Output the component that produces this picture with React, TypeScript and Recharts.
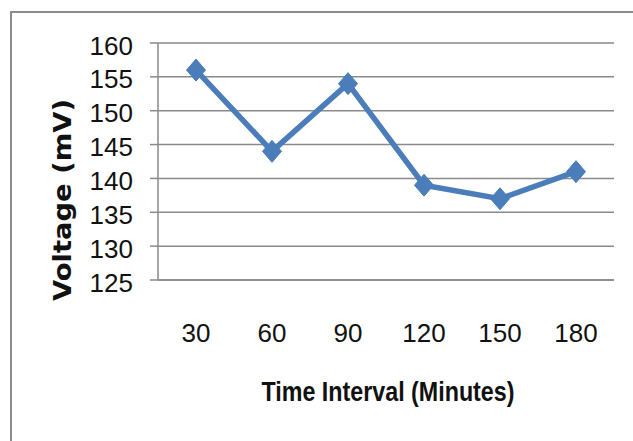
import React from 'react';
import { LineChart, Line, XAxis, YAxis, CartesianGrid } from 'recharts';

const timeIntervals = ['30', '60', '90', '120', '150', '180'];
const voltages = [156, 144, 154, 139, 137, 141];
const yTicks = [125, 130, 135, 140, 145, 150, 155, 160];

const data = timeIntervals.map((t, i) => ({ time: t, voltage: voltages[i] }));

const LINE_COLOR = '#4a7dba';
const GRID_COLOR = '#8a8a8a';
const TICK_FONT = '"Liberation Sans", Arial, sans-serif';

const Diamond = (props: any) => {
  const { cx, cy } = props;
  if (cx == null || cy == null) return null;
  const w = 9.5;
  const h = 11;
  return (
    <polygon
      points={`${cx},${cy - h} ${cx + w},${cy} ${cx},${cy + h} ${cx - w},${cy}`}
      fill={LINE_COLOR}
      stroke={LINE_COLOR}
      strokeWidth={1}
    />
  );
};

const XTick = (props: any) => {
  const { x, y, payload } = props;
  return (
    <text
      x={x}
      y={y}
      dy={19}
      textAnchor="middle"
      fontFamily={TICK_FONT}
      fontSize={26}
      fill="#111"
    >
      {payload.value}
    </text>
  );
};

const YTick = (props: any) => {
  const { x, y, payload } = props;
  return (
    <text
      x={x}
      y={y}
      dy={11.5}
      textAnchor="end"
      fontFamily={TICK_FONT}
      fontSize={26}
      fill="#111"
    >
      {payload.value}
    </text>
  );
};

const XTitle = (props: any) => {
  const vb = props.viewBox || {};
  return (
    <text
      x={vb.x + vb.width / 2 + 2}
      y={vb.y + 121}
      textAnchor="middle"
      fontFamily={TICK_FONT}
      fontWeight="bold"
      fontSize={28}
      textLength={253}
      lengthAdjust="spacingAndGlyphs"
      fill="#111"
    >
      Time Interval (Minutes)
    </text>
  );
};

const YTitle = (props: any) => {
  const vb = props.viewBox || {};
  const cx = vb.x + 62;
  const cy = 200;
  return (
    <text
      x={cx}
      y={cy}
      transform={`rotate(-90, ${cx}, ${cy})`}
      textAnchor="middle"
      dominantBaseline="central"
      fontFamily='"DejaVu Sans", sans-serif'
      fontWeight="bold"
      fontSize={25}
      textLength={202}
      lengthAdjust="spacingAndGlyphs"
      fill="#111"
    >
      Voltage (mV)
    </text>
  );
};

export default function App() {
  return (
    <div
      style={{
        position: 'absolute',
        left: 0,
        top: 0,
        width: 633,
        height: 441,
        overflow: 'hidden',
        background: '#fff',
      }}
    >
      <div
        style={{
          position: 'absolute',
          left: 10,
          top: 11,
          width: 660,
          height: 460,
          border: '2px solid #8c8c8c',
        }}
      />
      <div style={{ position: 'absolute', left: 0, top: 0 }}>
        <LineChart
          width={633}
          height={441}
          data={data}
          margin={{ top: 43, right: 19, left: 0, bottom: 0 }}
        >
          <CartesianGrid
            vertical={false}
            stroke={GRID_COLOR}
            strokeWidth={1.5}
            strokeDasharray=""
          />
          <XAxis
            dataKey="time"
            height={161}
            padding={{ left: 38, right: 38 }}
            axisLine={{ stroke: GRID_COLOR, strokeWidth: 1.5 }}
            tickLine={false}
            tickSize={0}
            tickMargin={43}
            tick={<XTick />}
            interval={0}
            label={<XTitle />}
          />
          <YAxis
            width={158}
            domain={[125, 160]}
            ticks={yTicks}
            interval={0}
            axisLine={{ stroke: GRID_COLOR, strokeWidth: 1.5 }}
            tickLine={{ stroke: GRID_COLOR, strokeWidth: 1.5 }}
            tickSize={8}
            tickMargin={17}
            tick={<YTick />}
            label={<YTitle />}
          />
          <Line
            type="linear"
            dataKey="voltage"
            stroke={LINE_COLOR}
            strokeWidth={5.5}
            dot={<Diamond />}
            activeDot={false}
            isAnimationActive={false}
          />
        </LineChart>
      </div>
    </div>
  );
}
